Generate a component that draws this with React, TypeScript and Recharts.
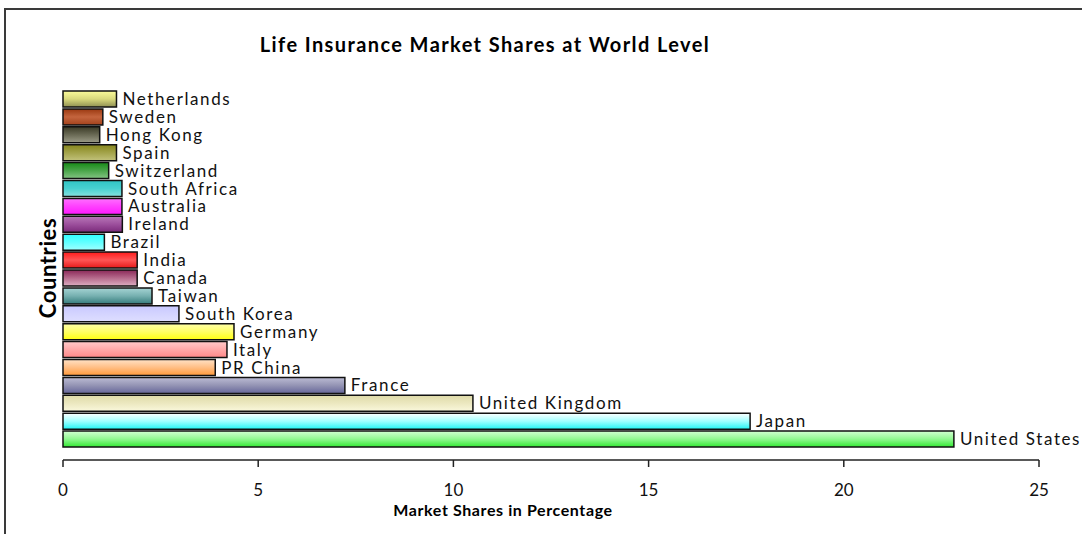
import React from "react";
import { BarChart, Bar, XAxis, YAxis, Cell, LabelList } from "recharts";

const countries = [
  "Netherlands", "Sweden", "Hong Kong", "Spain", "Switzerland", "South Africa",
  "Australia", "Ireland", "Brazil", "India", "Canada", "Taiwan", "South Korea",
  "Germany", "Italy", "PR China", "France", "United Kingdom", "Japan", "United States",
];

const shares = [
  1.37, 1.02, 0.94, 1.37, 1.17, 1.51,
  1.51, 1.52, 1.06, 1.9, 1.9, 2.28, 2.97,
  4.38, 4.2, 3.9, 7.22, 10.5, 17.6, 22.82,
];

const xTicks = [0, 5, 10, 15, 20, 25];

// gradient stops per bar: [top, middle, bottom]
const gradients = [
  ["#fbfb9a", "#d9d97c", "#8f8f52"],
  ["#9a3810", "#c4653e", "#a3421c"],
  ["#3a3a26", "#6a6a55", "#9c9c88"],
  ["#86861c", "#a3a34a", "#c2c27c"],
  ["#178a17", "#4aa54a", "#85c485"],
  ["#30c4c4", "#48d0d0", "#86e0e0"],
  ["#ff70ff", "#ff40ff", "#ff18ff"],
  ["#b878b8", "#9c4f9c", "#7a2a7a"],
  ["#30ffff", "#60ffff", "#a0ffff"],
  ["#ff1c1c", "#ff5555", "#e61818"],
  ["#8a2858", "#b66a8c", "#dcaec2"],
  ["#a6d4d4", "#76b0b0", "#367c7c"],
  ["#c8c8ff", "#d4d4ff", "#dedeff"],
  ["#ffffa8", "#ffff66", "#ffff10"],
  ["#ffcaca", "#ffa8a8", "#ff8888"],
  ["#ffe2c6", "#ffbe84", "#ff9a3a"],
  ["#bcbcd4", "#9494b4", "#66669a"],
  ["#dedaa8", "#ece8c0", "#faf8dc"],
  ["#ffffff", "#a0ffff", "#20f4f4"],
  ["#d2ffd2", "#90f890", "#30e830"],
];

const data = countries.map((name, i) => ({ name, value: shares[i] }));

const FONT = "Lato, 'DejaVu Sans', sans-serif";

const CountriesLabel = (props: any) => {
  const vb = props.viewBox || {};
  const cx = vb.x + vb.width - 16;
  const cy = vb.y + vb.height / 2;
  return (
    <text
      x={cx}
      y={cy}
      transform={`rotate(-90 ${cx} ${cy})`}
      textAnchor="middle"
      dominantBaseline="central"
      fontFamily={FONT}
      fontWeight="bold"
      fontSize={22}
      letterSpacing={0.6}
      fill="#000"
    >
      Countries
    </text>
  );
};

export default function App() {
  return (
    <div
      style={{
        position: "absolute",
        left: 0,
        top: 0,
        width: 1082,
        height: 534,
        background: "#fff",
        overflow: "hidden",
      }}
    >
      <div
        style={{
          position: "absolute",
          left: 4,
          top: 8,
          width: 1100,
          height: 560,
          borderTop: "2px solid #3a3a3a",
          borderLeft: "2px solid #3a3a3a",
        }}
      />
      <div
        style={{
          position: "absolute",
          left: 0,
          top: 31,
          width: 970,
          textAlign: "center",
          fontFamily: FONT,
          fontWeight: "bold",
          fontSize: 20,
          letterSpacing: 1.4,
          color: "#000",
          lineHeight: "26px",
        }}
      >
        Life Insurance Market Shares at World Level
      </div>
      <div style={{ position: "absolute", left: 0, top: 0 }}>
        <BarChart
          width={1082}
          height={534}
          data={data}
          layout="vertical"
          margin={{ top: 76, right: 43, bottom: 0, left: 33 }}
          barCategoryGap={1}
        >
          <defs>
            {gradients.map((g, i) => (
              <linearGradient key={i} id={`bg${i}`} x1="0" y1="0" x2="0" y2="1">
                <stop offset="0%" stopColor={g[0]} />
                <stop offset="50%" stopColor={g[1]} />
                <stop offset="100%" stopColor={g[2]} />
              </linearGradient>
            ))}
          </defs>
          <XAxis
            type="number"
            domain={[0, 25]}
            ticks={xTicks}
            interval={0}
            height={74}
            tickSize={7}
            tickMargin={17}
            axisLine={{ stroke: "#222", strokeWidth: 1.5 }}
            tickLine={{ stroke: "#222", strokeWidth: 1.5 }}
            tick={{ fill: "#111", fontSize: 17, fontFamily: FONT }}
            label={{
              value: "Market Shares in Percentage",
              position: "insideBottom",
              offset: 18,
              dx: -48,
              fill: "#000",
              fontSize: 16,
              fontWeight: "bold",
              fontFamily: FONT,
              letterSpacing: 0.6,
            }}
          />
          <YAxis
            type="category"
            dataKey="name"
            width={0}
            tick={false}
            tickLine={false}
            padding={{ top: 14, bottom: 12 }}
            axisLine={{ stroke: "#111", strokeWidth: 2 }}
          />
          <YAxis
            yAxisId="frame"
            type="number"
            domain={[0, 1]}
            allowDataOverflow
            ticks={[0, 1]}
            width={30}
            axisLine={false}
            tick={false}
            tickSize={8}
            tickLine={{ stroke: "#111", strokeWidth: 2 }}
            label={<CountriesLabel />}
          />
          <Bar dataKey="value" isAnimationActive={false} stroke="#111" strokeWidth={1.5}>
            {data.map((d, i) => (
              <Cell key={d.name} fill={`url(#bg${i})`} />
            ))}
            <LabelList
              dataKey="name"
              position="right"
              offset={6}
              fill="#111"
              fontSize={17}
              fontFamily={FONT}
              letterSpacing={1.6}
            />
          </Bar>
        </BarChart>
      </div>
    </div>
  );
}
